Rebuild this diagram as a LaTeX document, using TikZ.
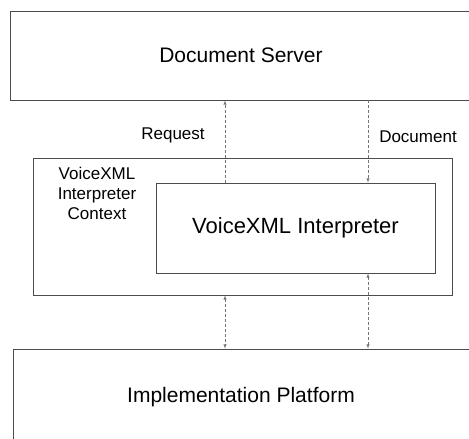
\documentclass[tikz,border=0pt]{standalone}
\usepackage{fontspec}
\setmainfont{Liberation Sans}
\usepackage{tikz}

\tikzset{
  box/.style={draw=black!70, line width=0.7pt, rectangle, inner sep=0pt},
  link/.style={draw=black!55, densely dashed, line width=0.5pt},
  big/.style={font=\fontsize{21}{25}\selectfont},
  small/.style={font=\fontsize{17}{20}\selectfont}
}

\begin{document}
\begin{tikzpicture}[x=1pt, y=-1pt, >=latex]

    \useasboundingbox (0,0) rectangle (469,439);
    \clip (0,0) rectangle (469,439);

    \node[box, minimum width=465pt, minimum height=89pt] (server) at (242.5, 55.5) {};
    \node[big] (serverText) at (241, 55) {Document Server};

    \node[box, minimum width=419pt, minimum height=137pt] (context) at (242.5, 226.5) {};
    \node[small, align=center] (contextText) at (97, 193)
    { VoiceXML \\ Interpreter \\ Context };

    \node[box, minimum width=279pt, minimum height=90pt] (interp) at (295.5, 228)
    {\fontsize{22}{26}\selectfont VoiceXML Interpreter};

    \node[box, minimum width=462pt, minimum height=96pt] (platform) at (244, 397) {};
    \node[big] (platformText) at (241, 397) {Implementation Platform};

    \coordinate (reqx) at (225, 0);
    \coordinate (docx) at (368, 0);

    \node[small] (request) at (173, 135) {Request};
    \node[small] (document) at (418, 137) {Document};

    \draw[link, ->] (interp.north -| reqx) -- (server.south -| reqx);
    \draw[link, ->] (server.south -| docx) -- (interp.north -| docx);

    \draw[link, <->] (context.south -| reqx) -- (platform.north -| reqx);
    \draw[link, <->] (interp.south -| docx) -- (platform.north -| docx);
  \end{tikzpicture}
\end{document}
